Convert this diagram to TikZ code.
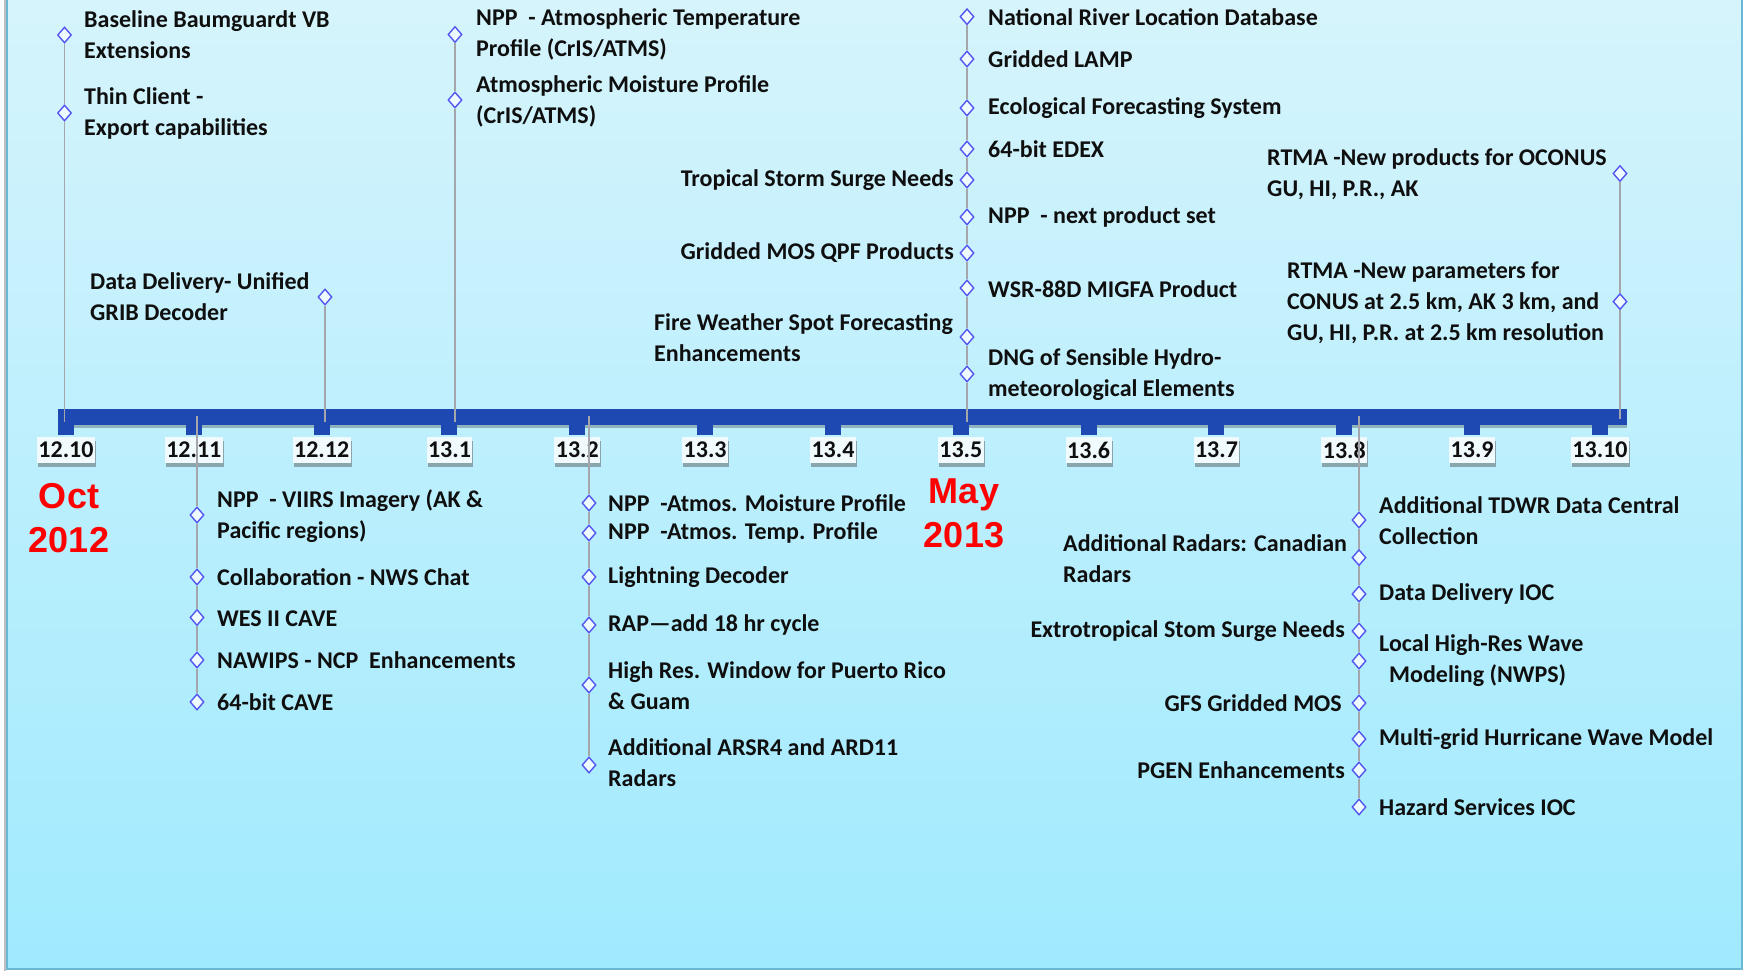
\documentclass[tikz,border=0pt]{standalone}
\usepackage{fontspec}
\setmainfont{Carlito}
\newfontfamily\arialfont{Liberation Sans}
\usetikzlibrary{shapes.geometric,shadows}
\definecolor{bgtop}{RGB}{214,244,252}
\definecolor{bgbot}{RGB}{160,234,254}
\definecolor{bordc}{RGB}{105,185,212}
\definecolor{barc}{RGB}{30,72,178}
\definecolor{linec}{RGB}{165,165,172}
\definecolor{diac}{RGB}{85,85,240}
\definecolor{txtc}{RGB}{15,15,15}
\tikzset{
  item/.style={font=\fontsize{24}{31}\selectfont\bfseries, text=txtc, inner sep=0pt},
  iteml/.style={item, align=left, anchor=west},
  itemr/.style={item, align=right, anchor=east},
  dia/.style={diamond, draw=diac, line width=1.4pt, fill=white!55!bgtop, minimum width=14pt, minimum height=16pt, inner sep=0pt},
  vline/.style={draw=linec, line width=1.5pt},
  tickblk/.style={fill=barc},
  ticklab/.style={font=\fontsize{24}{28}\selectfont\bfseries, text=txtc, fill=white!65!bgtop, inner xsep=1.5pt, minimum height=26pt, drop shadow={shadow xshift=1pt, shadow yshift=-4pt, opacity=0.45, fill=black!70}},
  redlab/.style={font=\arialfont\fontsize{36}{44}\selectfont\bfseries, text=red, align=center, inner sep=0pt},
}
\begin{document}
\begin{tikzpicture}[x=1pt,y=-1pt]
\useasboundingbox (0,0) rectangle (1745,971);
% background
\fill[white] (0,0) rectangle (1745,971);
\draw[black!25, line width=2pt] (5,-5) -- (5,971);
\shade[top color=bgtop, bottom color=bgbot] (7,-5) rectangle (1742,969);
\draw[bordc, line width=1.5pt] (7,-5) -- (7,969) -- (1742,969) -- (1742,-5);

% timeline bar
\fill[barc, drop shadow={shadow xshift=0pt, shadow yshift=-3pt, opacity=0.25, fill=black}] (58,409) rectangle (1627,425);
\foreach \lab [count=\i from 0] in {12.10,12.11,12.12,13.1,13.2,13.3,13.4,13.5,13.6,13.7,13.8,13.9,13.10} {
  \pgfmathsetmacro{\cx}{66+127.83*\i}
  \fill[tickblk] (\cx-8,409) rectangle (\cx+8,435);
  \node[ticklab] (lab\i) at (\cx,450) {\lab};
}

% bar anchor points for the connectors
\coordinate (bA) at (64.5,422);
\coordinate (bB) at (325,422);
\coordinate (bC) at (455,422);
\coordinate (bD) at (967,422);
\coordinate (bE) at (1620,419);
\coordinate (bF) at (197,416);
\coordinate (bG) at (589,416);
\coordinate (bH) at (1359,416);

% diamonds
\node[dia] (dA1) at (64.5,35) {};
\node[dia] (dA2) at (64.5,113) {};
\node[dia] (dB1) at (325,297) {};
\node[dia] (dC1) at (455,34.5) {};
\node[dia] (dC2) at (455,100) {};
\node[dia] (dD1) at (967,16.7) {};
\node[dia] (dD2) at (967,59) {};
\node[dia] (dD3) at (967,108) {};
\node[dia] (dD4) at (967,149) {};
\node[dia] (dD5) at (967,180) {};
\node[dia] (dD6) at (967,217) {};
\node[dia] (dD7) at (967,253) {};
\node[dia] (dD8) at (967,288) {};
\node[dia] (dD9) at (967,337) {};
\node[dia] (dD10) at (967,374) {};
\node[dia] (dE1) at (1620,173.5) {};
\node[dia] (dE2) at (1620,301.6) {};
\node[dia] (dF1) at (197,515) {};
\node[dia] (dF2) at (197,577) {};
\node[dia] (dF3) at (197,617.5) {};
\node[dia] (dF4) at (197,660) {};
\node[dia] (dF5) at (197,702) {};
\node[dia] (dG1) at (589,503) {};
\node[dia] (dG2) at (589,533) {};
\node[dia] (dG3) at (589,577) {};
\node[dia] (dG4) at (589,625) {};
\node[dia] (dG5) at (589,685) {};
\node[dia] (dG6) at (589,765) {};
\node[dia] (dH1) at (1359,520) {};
\node[dia] (dH2) at (1359,557.6) {};
\node[dia] (dH3) at (1359,594) {};
\node[dia] (dH4) at (1359,631) {};
\node[dia] (dH5) at (1359,661) {};
\node[dia] (dH6) at (1359,703) {};
\node[dia] (dH7) at (1359,739) {};
\node[dia] (dH8) at (1359,770) {};
\node[dia] (dH9) at (1359,807) {};

% connectors
\draw[vline] (bA) -- (dA2.south) (dA2.north) -- (dA1.south);
\draw[vline] (bB) -- (dB1.south);
\draw[vline] (bC) -- (dC2.south) (dC2.north) -- (dC1.south);
\draw[vline] (bD) -- (dD10.south) (dD10.north) -- (dD9.south) (dD9.north) -- (dD8.south)
  (dD8.north) -- (dD7.south) (dD7.north) -- (dD6.south) (dD6.north) -- (dD5.south)
  (dD5.north) -- (dD4.south) (dD4.north) -- (dD3.south) (dD3.north) -- (dD2.south)
  (dD2.north) -- (dD1.south);
\draw[vline] (bE) -- (dE2.south) (dE2.north) -- (dE1.south);
\draw[vline] (bF) -- (dF1.north) (dF1.south) -- (dF2.north) (dF2.south) -- (dF3.north)
  (dF3.south) -- (dF4.north) (dF4.south) -- (dF5.north);
\draw[vline] (bG) -- (dG1.north) (dG1.south) -- (dG2.north) (dG2.south) -- (dG3.north)
  (dG3.south) -- (dG4.north) (dG4.south) -- (dG5.north) (dG5.south) -- (dG6.north);
\draw[vline] (bH) -- (dH1.north) (dH1.south) -- (dH2.north) (dH2.south) -- (dH3.north)
  (dH3.south) -- (dH4.north) (dH4.south) -- (dH5.north) (dH5.south) -- (dH6.north)
  (dH6.south) -- (dH7.north) (dH7.south) -- (dH8.north) (dH8.south) -- (dH9.north);

% texts: 12.10
\node[iteml] (tA1) at (84,34.5) {Baseline Baumguardt VB\\Extensions};
\node[iteml] (tA2) at (84,113.5) {Thin Client -\\Export capabilities};
% 12.12
\node[iteml] (tB1) at (90,297) {Data Delivery- Unified\\GRIB Decoder};
% 13.1
\node[iteml] (tC1) at (476,34.5) {NPP\ \ - Atmospheric Temperature\\Profile (CrIS/ATMS)};
\node[iteml] (tC2) at (476,101) {Atmospheric Moisture Profile\\(CrIS/ATMS)};
% 13.5
\node[iteml] (tD1) at (988,16.7) {National River Location Database};
\node[iteml] (tD2) at (988,59) {Gridded LAMP};
\node[iteml] (tD3) at (988,108) {Ecological Forecasting System};
\node[iteml] (tD4) at (988,149) {64-bit EDEX};
\node[itemr] (tD5) at (954,180) {Tropical Storm Surge Needs};
\node[iteml] (tD6) at (988,217) {NPP\ \ - next product set};
\node[itemr] (tD7) at (954,253) {Gridded MOS QPF Products};
\node[iteml] (tD8) at (988,289) {WSR-88D MIGFA Product};
\node[iteml] (tD9) at (654,337.5) {Fire Weather Spot Forecasting\\Enhancements};
\node[iteml] (tD10) at (988,375) {DNG of Sensible Hydro-\\meteorological Elements};
% 13.10
\node[iteml] (tE1) at (1267,174.5) {RTMA -New products for OCONUS\\GU, HI, P.R., AK};
\node[iteml] (tE2) at (1287,302.5) {RTMA -New parameters for\\CONUS at 2.5 km, AK 3 km, and\\GU, HI, P.R. at 2.5 km resolution};
% 12.11
\node[iteml] (tF1) at (217,516.5) {NPP\ \ - VIIRS Imagery (AK \&\\Pacific regions)};
\node[iteml] (tF2) at (217,577) {Collaboration - NWS Chat};
\node[iteml] (tF3) at (217,619) {WES II CAVE};
\node[iteml] (tF4) at (217,660) {NAWIPS - NCP\ \ Enhancements};
\node[iteml] (tF5) at (217,702) {64-bit CAVE};
% 13.2
\node[iteml] (tG1) at (608,503) {NPP\ \ -Atmos. Moisture Profile};
\node[iteml] (tG2) at (608,533) {NPP\ \ -Atmos. Temp. Profile};
\node[iteml] (tG3) at (608,577) {Lightning Decoder};
\node[iteml] (tG4) at (608,625) {RAP—add 18 hr cycle};
\node[iteml] (tG5) at (608,686) {High Res. Window for Puerto Rico\\\& Guam};
\node[iteml] (tG6) at (608,762.5) {Additional ARSR4 and ARD11\\Radars};
% 13.8
\node[iteml] (tH1) at (1379,520.5) {Additional TDWR Data Central\\Collection};
\node[iteml] (tH2) at (1063,558.5) {Additional Radars: Canadian\\Radars};
\node[iteml] (tH3) at (1379,594) {Data Delivery IOC};
\node[itemr] (tH4) at (1345,631) {Extrotropical Stom Surge Needs};
\node[iteml] (tH5) at (1379,661) {Local High-Res Wave\\\hspace*{10pt}Modeling (NWPS)};
\node[itemr] (tH6) at (1342,703) {GFS Gridded MOS};
\node[iteml] (tH7) at (1379,739) {Multi-grid Hurricane Wave Model};
\node[itemr] (tH8) at (1345,770) {PGEN Enhancements};
\node[iteml] (tH9) at (1379,807) {Hazard Services IOC};

% red month labels
\node[redlab] (oct) at (69,518.5) {Oct\\2012};
\node[redlab] (may) at (964,513) {May\\2013};
\end{tikzpicture}
\end{document}
